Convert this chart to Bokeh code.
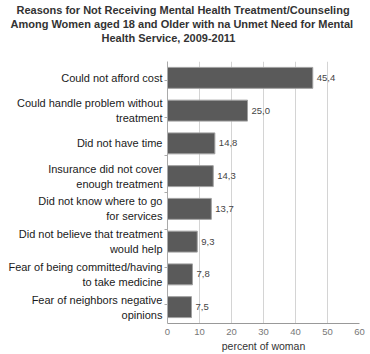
from bokeh.plotting import figure
from bokeh.models import (ColumnDataSource, LabelSet, Title, Range1d, CategoricalAxis,
                          FixedTicker, FactorRange)
from bokeh.core.properties import value
from bokeh.embed import file_html
from bokeh.resources import INLINE

categories = [
    "Could not afford cost",
    "Could handle problem without\ntreatment",
    "Did not have time",
    "Insurance did not cover\nenough treatment",
    "Did not know where to go\nfor services",
    "Did not believe that treatment\nwould help",
    "Fear of being committed/having\nto take medicine",
    "Fear of neighbors negative\nopinions",
]
values = [45.4, 25.0, 14.8, 14.3, 13.7, 9.3, 7.8, 7.5]
value_labels = ["45,4", "25,0", "14,8", "14,3", "13,7", "9,3", "7,8", "7,5"]
x_ticks = [0, 10, 20, 30, 40, 50, 60]
title_lines = [
    "Reasons for Not Receiving Mental Health Treatment/Counseling",
    "Among Women aged 18 and Older with na Unmet Need for Mental",
    "Health Service, 2009-2011",
]
x_label = "percent of woman"

FONT = "Liberation Sans"
W, H = 370, 354
FL, FR, FT, FB = 167, 11, 61, 30

src = ColumnDataSource(dict(cat=categories, val=values, lab=value_labels))

p = figure(width=W, height=H, output_backend="svg", toolbar_location=None,
           y_range=FactorRange(*categories[::-1]), x_range=Range1d(0, 60),
           y_axis_location=None,
           min_border_left=FL, min_border_right=FR, min_border_top=FT,
           min_border_bottom=FB)
p.outline_line_color = None
p.background_fill_color = "white"
p.border_fill_color = "white"

p.hbar(y="cat", right="val", left=0, height=0.64, source=src,
       fill_color="#5a5a5a", line_color="#a0a0a0", line_width=1)

# grid
p.ygrid.grid_line_color = None
p.xgrid.grid_line_color = "#d4d4d4"
p.xgrid.ticker = FixedTicker(ticks=x_ticks[1:])

# x axis
p.xaxis.ticker = FixedTicker(ticks=x_ticks)
p.xaxis.axis_line_color = "#999999"
p.xaxis.major_tick_line_color = None
p.xaxis.major_tick_out = 0
p.xaxis.major_tick_in = 0
p.xaxis.minor_tick_line_color = None
p.xaxis.minor_tick_out = 0
p.xaxis.major_label_text_color = "#777777"
p.xaxis.major_label_text_font = FONT
p.xaxis.major_label_text_font_size = "9.5px"
p.xaxis.major_label_standoff = 5
p.xaxis.axis_label = x_label
p.xaxis.axis_label_text_font = FONT
p.xaxis.axis_label_text_font_size = "10.5px"
p.xaxis.axis_label_text_font_style = "normal"
p.xaxis.axis_label_text_color = "#333333"
p.xaxis.axis_label_standoff = 2

# y axis: boundary ticks via shifted factor range
bounds = [f"b{i}" for i in range(len(categories) + 1)]
p.extra_y_ranges = {"bounds": FactorRange(*bounds, range_padding=-1.0,
                                          range_padding_units="absolute")}
bax = CategoricalAxis(y_range_name="bounds",
                      major_label_text_font_size="0px", major_label_text_color=None,
                      major_label_standoff=0,
                      axis_line_color="#aaaaaa", major_tick_line_color="#aaaaaa",
                      major_tick_out=3, major_tick_in=0, minor_tick_line_color=None)
p.add_layout(bax, "left")

# category labels axis
lax = CategoricalAxis(axis_line_color=None, major_tick_line_color=None,
                      minor_tick_line_color=None, major_label_standoff=-4,
                      major_label_text_font=FONT, major_label_text_font_size="11px",
                      major_label_text_color="#1a1a1a",
                      major_label_text_line_height=1.25)
p.add_layout(lax, "left")

# value labels
p.add_layout(LabelSet(x="val", y="cat", text="lab", source=src, x_offset=4,
                      text_align="left", text_baseline="middle",
                      text_font=value(FONT), text_font_size="9.5px", text_color="#444444"))

# title: three lines stacked above the frame (added nearest-first), plus a spacer
title_offsets = [-151, -157, -66]
p.add_layout(Title(text=" ", text_font_size="11px", standoff=4), "above")
for t, off in list(zip(title_lines, title_offsets))[::-1]:
    p.add_layout(Title(text=t, align="left", offset=off, standoff=0,
                       text_font=FONT, text_font_size="11px", text_font_style="bold",
                       text_color="#333333"), "above")

open("out.html", "w").write(file_html(p, INLINE))
